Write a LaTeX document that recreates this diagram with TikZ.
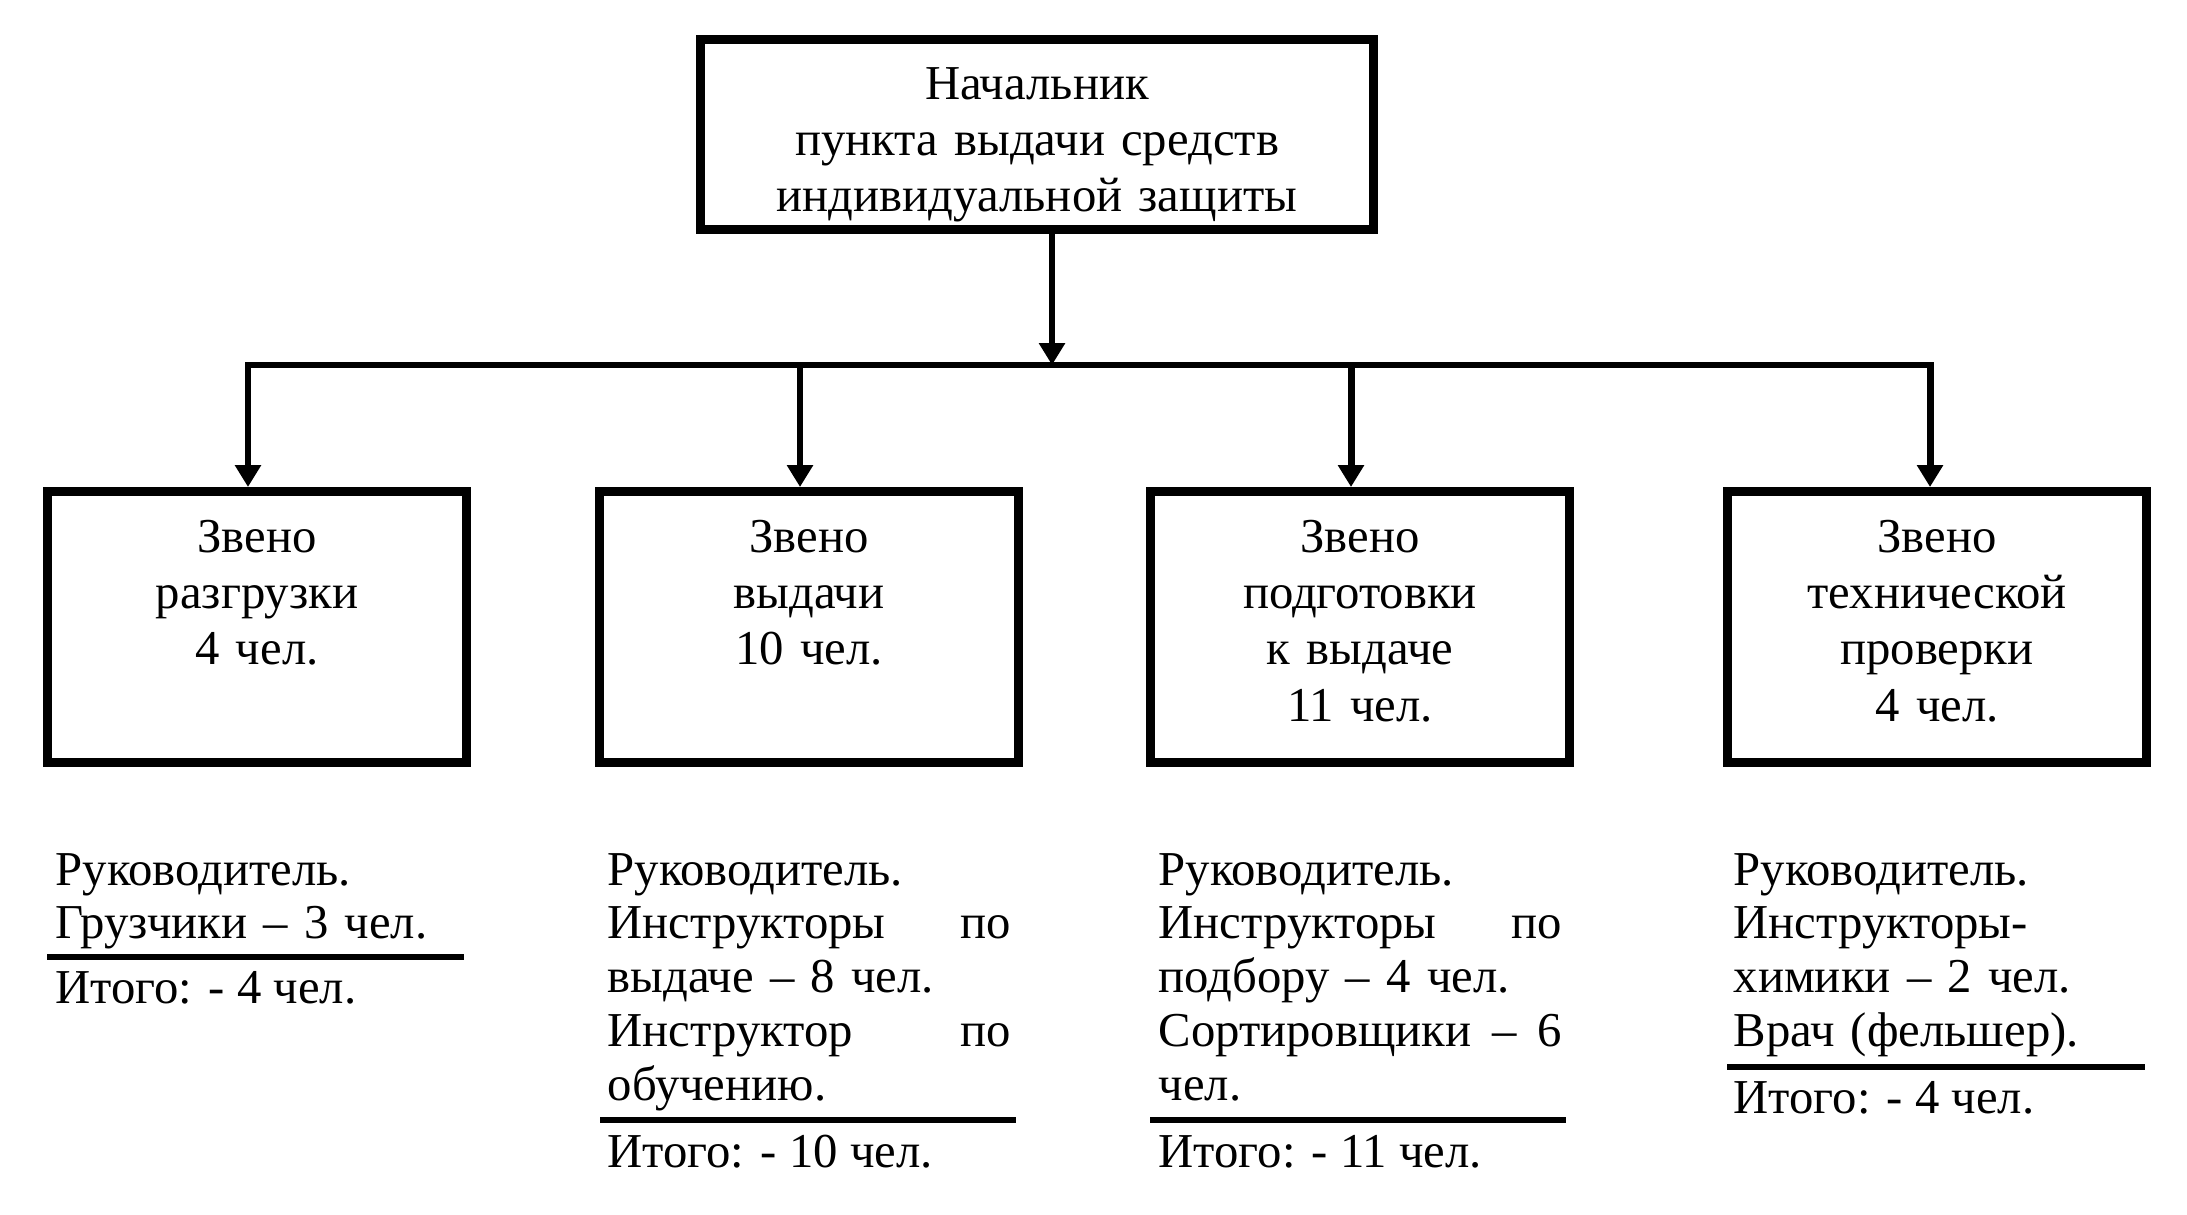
\documentclass[tikz,border=0pt]{standalone}
\usepackage{fontspec}
\setmainfont{Liberation Serif}
\usetikzlibrary{arrows.meta}

\begin{document}
\begin{tikzpicture}[x=0.2874pt, y=-0.2874pt,
			>={Triangle[length=6.3pt,width=7.2pt]},
			every node/.style={inner sep=0pt, font=\fontsize{14pt}{16.1pt}\selectfont},
			chiefbox/.style={draw, line width=2.5pt, text width=193.4pt, align=center,
				text height=17.4pt, text depth=37.2pt, anchor=north},
			unitbox/.style={draw, line width=2.5pt, text width=120.4pt, align=center,
				text height=17.7pt, text depth=60.2pt, anchor=north},
			staff/.style={text width=115.8pt, align=left, anchor=base west,
				font=\fontsize{14pt}{15.45pt}\selectfont},
			total/.style={anchor=base west},
			link/.style={line width=2pt},
			rule/.style={line width=1.9pt}]

			\useasboundingbox (0,0) rectangle (2187,1214);

			% chief and units
			\node[chiefbox] (chief) at (1037,35) {Начальник\\ пункта выдачи средств\\ индивидуальной защиты};
			\node[unitbox] (u1) at (257,487) {Звено\\ разгрузки\\ 4 чел.};
			\node[unitbox] (u2) at (809,487) {Звено\\ выдачи\\ 10 чел.};
			\node[unitbox] (u3) at (1360,487) {Звено\\ подготовки\\ к выдаче\\ 11 чел.};
			\node[unitbox] (u4) at (1937,487) {Звено\\ технической\\ проверки\\ 4 чел.};

			% connectors
			\coordinate (hub) at (1052,365);
			\coordinate (d1) at (248,365);
			\coordinate (d2) at (800,365);
			\coordinate (d3) at (1351,365);
			\coordinate (d4) at (1930,365);
			\draw[link, ->] (chief.south -| hub) -- (hub);
			\draw[link, line cap=rect] (d1) -- (d4);
			\draw[link, ->] (d1) -- (d1 |- u1.north);
			\draw[link, ->] (d2) -- (d2 |- u2.north);
			\draw[link, ->] (d3) -- (d3 |- u3.north);
			\draw[link, ->] (d4) -- (d4 |- u4.north);

			% staff lists
			\node[staff] (s1) at (55,885) {Руководитель.\\ Грузчики – 3 чел.};
			\node[staff] (s2) at (607,885) {Руководитель.\\ Инструкторы\hfill по\\ выдаче – 8 чел.\\ Инструктор\hfill по\\ обучению.};
			\node[staff] (s3) at (1158,885) {Руководитель.\\ Инструкторы\hfill по\\ подбору – 4 чел.\\ Сортировщики \hfill– \hfill6\\ чел.};
			\node[staff] (s4) at (1733,885) {Руководитель.\\ Инструкторы-\\ химики – 2 чел.\\ Врач (фельшер).};

			\draw[rule] (47,957) -- (464,957);
			\draw[rule] (600,1120) -- (1016,1120);
			\draw[rule] (1150,1120) -- (1566,1120);
			\draw[rule] (1727,1067) -- (2145,1067);

			\node[total] (t1) at (55,1003) {Итого: - 4 чел.};
			\node[total] (t2) at (607,1167) {Итого: - 10 чел.};
			\node[total] (t3) at (1158,1167) {Итого: - 11 чел.};
			\node[total] (t4) at (1733,1113) {Итого: - 4 чел.};
		\end{tikzpicture}
\end{document}
